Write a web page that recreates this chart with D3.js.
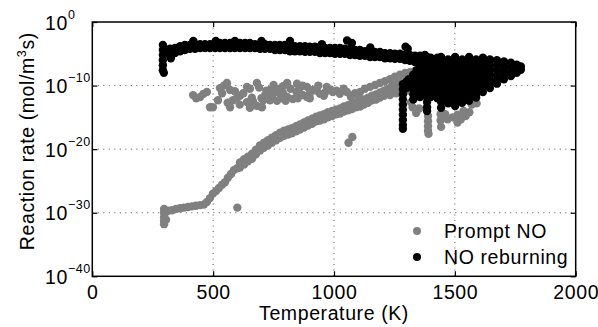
<!DOCTYPE html>
<html><head><meta charset="utf-8">
<script src="https://cdn.jsdelivr.net/npm/d3@7"></script>
<style>
body{margin:0;background:#fff}
svg text{font-family:"Liberation Sans",Arial,Helvetica,sans-serif;fill:#000;letter-spacing:0.6px}
</style>
</head><body>
<svg id="chart" width="598" height="327" style="font-family:'Liberation Sans',Arial,sans-serif"></svg>
<script>
// ---- tick labels / axes ----
const xTicks = [0, 500, 1000, 1500, 2000];
const yTickExps = [0, -10, -20, -30, -40];
const seriesNames = ["Prompt NO", "NO reburning"];
const seriesColors = ["#808080", "#000000"];
const xLabel = "Temperature (K)";

// ---- data: [temperature (K), log10 reaction rate (mol/m^3 s)] ----
const promptCurve = [
 [297,-29.4],[297,-30.0],[297,-30.7],[297,-31.3],[297,-31.8],[305,-29.9],[305,-31.1],[313,-29.7],[330,-29.6],[346,-29.4],
 [363,-29.3],[379,-29.2],[396,-29.1],[412,-29.0],[429,-28.9],[446,-28.8],[462,-28.7],[474,-28.3],[487,-27.7],[499,-27.0],
 [512,-26.6],[524,-26.1],[537,-25.6],[549,-25.2],[561,-24.5],[574,-23.9],[586,-23.3],[599,-23.0],
 [611,-22.1],[611,-22.9],[628,-21.6],[628,-22.4],[644,-21.2],[644,-21.9],[661,-20.7],[661,-21.5],[677,-20.1],[677,-20.8],
 [694,-19.4],[694,-20.2],[710,-19.0],[710,-19.8],[727,-18.6],[727,-19.4],[743,-18.2],[743,-19.0],[760,-17.8],[760,-18.6],
 [777,-17.4],[777,-18.2],[793,-17.1],[793,-17.9],[810,-16.9],[810,-17.7],[826,-16.7],[826,-17.5],[843,-16.4],[843,-17.2],
 [859,-16.1],[859,-16.9],[876,-15.8],[876,-16.6],[892,-15.5],[892,-16.3],[909,-15.2],[909,-16.0],[926,-14.9],[926,-15.6],
 [942,-14.7],[942,-15.5],[959,-14.5],[959,-15.3],[975,-14.2],[975,-15.0],[992,-14.0],[992,-14.8],[1008,-13.8],[1008,-14.5],
 [1025,-13.6],[1025,-14.4],[1041,-13.3],[1041,-14.1],[1058,-13.1],[1058,-13.9],[1074,-12.9],[1074,-13.7],[1091,-12.7],[1091,-13.4],
 [1108,-12.5],[1108,-13.3],[1124,-12.2],[1124,-13.0],[1141,-11.9],[1141,-12.7],[1157,-11.6],[1157,-12.3],[1174,-11.4],[1174,-12.2],
 [1190,-11.1],[1190,-11.9],[1207,-10.8],[1207,-11.6],[1223,-10.5],[1223,-11.2],[1240,-10.1],[1240,-10.9],[1257,-9.8],[1257,-10.6],
 [1273,-9.5],[1273,-10.3],[1290,-9.0],[1290,-9.8],[1306,-8.7],[1306,-9.5],[1323,-8.4],[1323,-9.2]
];
const promptUpper = [
 [1108,-11.0],[1128,-10.5],[1149,-10.2],[1170,-9.9],[1190,-9.6],[1211,-9.3],[1232,-9.0],[1252,-8.6],[1273,-8.3],
 [1294,-8.0],[1314,-7.9],[1335,-7.7],[1356,-7.5],[1232,-11.5],[1257,-11.2],[1281,-11.0],[1306,-10.8]
];
const promptScatter = [
 [417,-11.5],[446,-11.8],[474,-11.0],[499,-13.4],[487,-13.4],[520,-12.3],[528,-10.4],[537,-11.2],[557,-9.6],[570,-10.7],
 [582,-12.3],[570,-13.4],[599,-11.9],[611,-11.6],[640,-10.2],[652,-10.5],[681,-9.6],[640,-12.6],[652,-13.5],[681,-13.2],
 [702,-13.4],[707,-12.3],[715,-11.5],[735,-12.3],[735,-10.7],[764,-11.0],[764,-12.4],[789,-11.2],[789,-10.1],[806,-9.6],
 [806,-11.8],[830,-12.1],[847,-9.7],[859,-10.4],[872,-11.5],[888,-11.8],[888,-10.2],[913,-10.7],[929,-10.8],[942,-11.3],
 [958,-11.6],[970,-10.2],[995,-11.0],[1024,-11.3],[1053,-11.0],[1087,-11.2],
 [430,-12.0],[460,-11.3],[545,-10.0],[590,-10.9],[625,-11.2],[660,-11.9],[690,-10.3],[720,-10.8],[750,-9.9],[780,-12.0],
 [820,-10.5],[845,-11.0],[870,-10.0],[900,-11.2],[935,-10.0],[965,-11.0],[985,-10.6],[1010,-10.8],[1040,-10.5],[560,-12.7],
 [610,-13.0],[665,-12.5],[700,-12.0],[745,-11.5],[775,-10.5],[800,-12.4],[850,-12.0],[900,-12.0],[1070,-11.8],[1100,-11.6]
];
const promptDrips = [
 [1325,-13.4],[1340,-14.3],[1352,-13.6],[1318,-12.6],
 [1389,-14.8],[1389,-15.6],[1389,-16.4],[1389,-17.1],[1391,-17.6],
 [1441,-14.5],[1441,-15.5],[1443,-16.5],
 [1460,-14.5],[1470,-15.3],[1490,-15.0],[1511,-15.8],[1525,-15.3],[1545,-14.8],[1560,-14.2],[1570,-13.0],
 [1590,-12.8],[1511,-14.6],[1536,-14.0],
 [600,-29.2],[1060,-19.0],[1076,-18.1]
];
const reburnBand = [
 [292,-3.6],[292,-4.4],[292,-5.2],[292,-6.0],[292,-6.8],[292,-7.6],[296,-8.0],[300,-4.2],[300,-5.0],
 [322,-4.2],[322,-5.2],[325,-5.7],
 [342,-4.1],[342,-4.9],[363,-3.8],[363,-4.6],[383,-3.6],[383,-4.4],[404,-3.6],[404,-4.2],[425,-3.5],[425,-4.2],
 [446,-3.5],[446,-4.1],[466,-3.5],[466,-4.1],[487,-3.5],[487,-4.1],[508,-3.3],[508,-4.1],[528,-3.3],[528,-4.1],
 [549,-3.3],[549,-4.1],[570,-3.3],[570,-4.1],[590,-3.3],[590,-4.1],[611,-3.3],[611,-4.1],[632,-3.3],[632,-4.1],
 [652,-3.3],[652,-4.1],[673,-3.5],[673,-4.1],[694,-3.5],[694,-4.2],[714,-3.5],[714,-4.2],[735,-3.6],[735,-4.2],
 [756,-3.6],[756,-4.4],[776,-3.6],[776,-4.4],[797,-3.6],[797,-4.4],[818,-3.6],[818,-4.6],[838,-3.8],[838,-4.6],
 [859,-3.8],[859,-4.6],[880,-3.8],[880,-4.7],[900,-3.9],[900,-4.7],[921,-3.9],[921,-4.7],[942,-3.9],[942,-4.9],
 [963,-4.1],[963,-4.9],[983,-4.1],[983,-4.9],[1004,-4.1],[1004,-5.0],[1025,-4.1],[1025,-5.0],[1045,-4.2],[1045,-5.0],
 [1066,-4.2],[1066,-5.2],[1087,-4.4],[1087,-5.2],[1107,-4.4],[1107,-5.3],[1128,-4.6],[1128,-5.3],[1149,-4.6],[1149,-5.5],
 [1169,-4.7],[1169,-5.5],[1190,-4.7],[1190,-5.5],[1211,-4.9],[1211,-5.7],[1232,-4.9],[1232,-5.7],[1252,-5.0],[1252,-5.8],
 [1273,-5.0],[1273,-5.8],[1294,-5.2],[1294,-6.0],[1314,-5.2],[1314,-6.1],[1335,-5.3],[1335,-6.3],[1356,-5.3],[1356,-6.4],
 [418,-3.0],[511,-3.0],[590,-3.0],[700,-3.0],[818,-3.0],[950,-3.5],[1054,-2.9],[1074,-3.3],[1150,-4.0],[1296,-3.9],[1305,-4.2],[1376,-5.2]
];
const reburnBlob = [
 [1285,-9.8],[1285,-10.6],[1285,-11.4],[1285,-12.2],[1285,-13.0],[1285,-13.8],[1285,-14.6],[1285,-15.4],[1285,-16.2],[1285,-16.8],
 [1300,-9.4],[1310,-9.0],[1310,-9.8],[1300,-10.4],
 [1328,-8.3],[1328,-9.0],[1328,-9.8],[1328,-10.6],[1328,-11.4],[1328,-12.2],
 [1342,-7.6],[1342,-8.4],[1342,-9.2],[1342,-10.0],[1342,-10.8],[1342,-11.6],
 [1356,-7.1],[1356,-7.9],[1356,-8.7],[1356,-9.4],[1356,-10.2],[1356,-11.0],[1356,-11.8],
 [1370,-6.3],[1370,-7.1],[1370,-7.9],[1370,-8.7],[1370,-9.4],[1370,-10.2],[1370,-11.0],
 [1385,-5.5],[1385,-6.3],[1385,-7.1],[1385,-7.9],[1385,-8.7],[1385,-9.4],[1385,-10.2],[1385,-11.0],[1385,-11.8],[1385,-12.6],[1385,-13.4],[1385,-14.0],
 [1400,-5.6],[1400,-6.4],[1400,-7.2],[1400,-8.0],[1400,-8.8],[1400,-9.6],[1400,-10.4],[1400,-11.2],[1400,-11.8],
 [1414,-5.9],[1414,-6.7],[1414,-7.5],[1414,-8.3],[1414,-9.0],[1414,-9.8],[1414,-10.6],[1414,-11.4],
 [1428,-5.6],[1428,-6.4],[1428,-7.2],[1428,-8.0],[1428,-8.8],[1428,-9.6],[1428,-10.4],[1428,-11.2],[1428,-12.0],
 [1443,-5.5],[1443,-6.3],[1443,-7.1],[1443,-7.9],[1443,-8.7],[1443,-9.4],[1443,-10.2],[1443,-11.0],[1443,-11.8],[1443,-12.6],[1443,-13.5],
 [1472,-5.9],[1472,-6.7],[1472,-7.5],[1472,-8.3],[1472,-9.0],[1472,-9.8],[1472,-10.6],[1472,-11.4],[1472,-12.2],[1472,-12.8],
 [1501,-5.5],[1501,-6.3],[1501,-7.1],[1501,-7.9],[1501,-8.7],[1501,-9.4],[1501,-10.2],[1501,-11.0],[1501,-11.8],[1501,-12.6],[1501,-13.2],
 [1530,-5.9],[1530,-6.7],[1530,-7.5],[1530,-8.3],[1530,-9.0],[1530,-9.8],[1530,-10.6],[1530,-11.4],[1530,-12.2],[1530,-12.7],
 [1559,-5.5],[1559,-6.3],[1559,-7.1],[1559,-7.9],[1559,-8.7],[1559,-9.4],[1559,-10.2],[1559,-11.0],[1559,-11.8],[1559,-12.4],
 [1588,-5.9],[1588,-6.7],[1588,-7.5],[1588,-8.3],[1588,-9.0],[1588,-9.8],[1588,-10.6],[1588,-11.4],[1588,-11.9],
 [1616,-5.6],[1616,-6.3],[1616,-7.1],[1616,-7.9],[1616,-8.7],[1616,-9.4],[1616,-10.2],[1616,-11.0],
 [1645,-5.9],[1645,-6.7],[1645,-7.5],[1645,-8.3],[1645,-9.0],[1645,-9.8],[1645,-10.4],
 [1674,-6.0],[1674,-6.8],[1674,-7.6],[1674,-8.4],[1674,-9.2],[1674,-9.7],
 [1703,-6.2],[1703,-7.0],[1703,-7.8],[1703,-8.5],[1703,-9.0],
 [1732,-6.4],[1732,-7.2],[1732,-8.0],[1732,-8.5],
 [1756,-6.7],[1756,-7.4],[1756,-8.0],
 [1773,-7.0],[1773,-7.5]
];

const promptNO = [].concat(promptCurve, promptUpper, promptScatter, promptDrips);
const noReburning = [].concat(reburnBand, reburnBlob);

// ---- layout ----
const FONT = "'Liberation Sans', Arial, Helvetica, sans-serif";
const svg = d3.select("#chart");
const L = 92.3, R = 575.7, T = 22, B = 276.3;
const x = d3.scaleLinear().domain([0, 2000]).range([L, R]);
const y = d3.scaleLog().domain([1e-40, 1]).range([B, T]);
const yTicks = yTickExps.map(e => Math.pow(10, e));
const FS = 19.5;

// grid
const grid = svg.append("g").attr("stroke", "#444").attr("stroke-width", 0.9).attr("stroke-dasharray", "1,4.5");
xTicks.filter(v => v > 0 && v < 2000).forEach(v => {
  grid.append("line").attr("x1", x(v)).attr("x2", x(v)).attr("y1", T).attr("y2", B);
});
yTicks.filter(v => v > 1e-40 && v < 1).forEach(v => {
  grid.append("line").attr("x1", L).attr("x2", R).attr("y1", y(v)).attr("y2", y(v));
});

// points
const pts = svg.append("g");
const r = 4.2;
pts.selectAll("circle.p").data(promptNO).join("circle").attr("class", "p")
  .attr("cx", d => x(d[0])).attr("cy", d => y(Math.pow(10, d[1]))).attr("r", r).attr("fill", seriesColors[0]);
pts.selectAll("circle.b").data(noReburning).join("circle").attr("class", "b")
  .attr("cx", d => x(d[0])).attr("cy", d => y(Math.pow(10, d[1]))).attr("r", r).attr("fill", seriesColors[1]);

// axes
const axB = svg.append("g").attr("transform", `translate(0,${B})`)
  .call(d3.axisBottom(x).tickValues(xTicks).tickSizeInner(-5).tickSizeOuter(0).tickFormat(d3.format("d")));
axB.selectAll("text").attr("y", 23).attr("dy", null).style("font-size", FS + "px").style("font-family", FONT);
const axT = svg.append("g").attr("transform", `translate(0,${T})`)
  .call(d3.axisTop(x).tickValues(xTicks).tickSizeInner(-5).tickSizeOuter(0).tickFormat(""));
const axL = svg.append("g").attr("transform", `translate(${L},0)`)
  .call(d3.axisLeft(y).tickValues(yTicks).tickSizeInner(-5).tickSizeOuter(0).tickFormat(""));
const axR = svg.append("g").attr("transform", `translate(${R},0)`)
  .call(d3.axisRight(y).tickValues(yTicks).tickSizeInner(-5).tickSizeOuter(0).tickFormat(""));
[axB, axT, axL, axR].forEach(a => {
  a.attr("font-family", null).attr("font-size", null);
  a.select(".domain").remove();
  a.selectAll("line").attr("stroke", "#000").attr("stroke-width", 1.2);
});
svg.append("rect").attr("x", L).attr("y", T).attr("width", R - L).attr("height", B - T)
  .attr("fill", "none").attr("stroke", "#000").attr("stroke-width", 1.5);

// y tick labels 10^n
yTickExps.forEach(e => {
  const t = svg.append("text").attr("x", 45).attr("y", y(Math.pow(10, e)) + 7.5)
    .style("font-size", FS + "px").style("font-family", FONT);
  t.append("tspan").text("10");
  t.append("tspan").attr("dy", -11).style("font-size", "12.5px").text(e === 0 ? "0" : "\u2212" + Math.abs(e));
});

// axis labels
svg.append("text").attr("x", (L + R) / 2).attr("y", 320).attr("text-anchor", "middle")
  .style("font-size", FS + "px").style("font-family", FONT).text(xLabel);
const yl = svg.append("text").attr("transform", `translate(34,${(T + B) / 2 - 8}) rotate(-90)`)
  .attr("text-anchor", "middle").style("font-size", FS + "px").style("font-family", FONT);
yl.append("tspan").text("Reaction rate (mol/m");
yl.append("tspan").attr("dy", -8).style("font-size", "12.5px").text("3");
yl.append("tspan").attr("dy", 8).text("s)");

// legend
const leg = svg.append("g");
seriesNames.forEach((n, i) => {
  const cy = 231 + i * 26;
  leg.append("circle").attr("cx", 417).attr("cy", cy).attr("r", 4).attr("fill", seriesColors[i]);
  leg.append("text").attr("x", 444).attr("y", cy + 7).style("font-size", FS + "px").style("font-family", FONT).text(n);
});
</script>
</body></html>
